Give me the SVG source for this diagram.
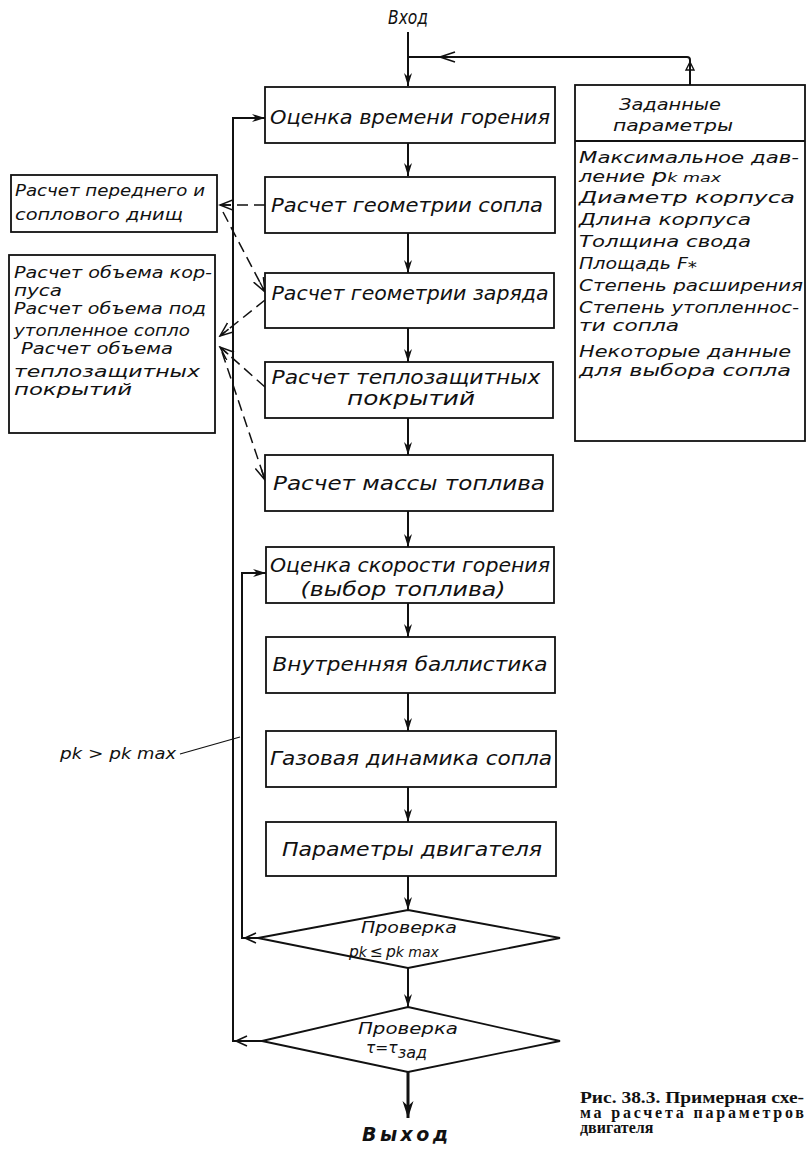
<svg xmlns="http://www.w3.org/2000/svg" width="809" height="1149" viewBox="0 0 809 1149">
  <style>
    .box { fill: #fff; stroke: #111; stroke-width: 1.8; }
    .ln { fill: none; stroke: #111; stroke-width: 2; }
    .dash { fill: none; stroke: #111; stroke-width: 1.5; stroke-dasharray: 11 6; }
    .t { font-family: "DejaVu Sans", "Liberation Sans", sans-serif; font-style: italic; font-size: 19px; fill: #111; }
    .ts { font-family: "DejaVu Sans", "Liberation Sans", sans-serif; font-style: italic; font-size: 15.5px; fill: #111; }
    .cap { font-family: "Liberation Serif", "DejaVu Serif", serif; font-weight: bold; font-size: 16px; fill: #111; }
  </style>
  <defs>
    <marker id="arr" markerUnits="userSpaceOnUse" markerWidth="14" markerHeight="10" refX="13" refY="4" orient="auto">
      <path d="M0,0 L13,4 L0,8 L4,4 Z" fill="#111"/>
    </marker>
    <marker id="arrBig" markerUnits="userSpaceOnUse" markerWidth="18" markerHeight="12" refX="17" refY="5.5" orient="auto">
      <path d="M0,0 L17,5.5 L0,11 L5,5.5 Z" fill="#111"/>
    </marker>
    <marker id="barb" markerUnits="userSpaceOnUse" markerWidth="16" markerHeight="12" refX="14" refY="5.5" orient="auto">
      <path d="M0,0 L14,5.5 L0,11 M3,5.5 L14,5.5" fill="none" stroke="#111" stroke-width="1.5"/>
    </marker>
  </defs>

  <rect width="809" height="1149" fill="#fff"/>

  <!-- connectors -->
  <g id="connectors">
    <!-- input -->
    <line class="ln" x1="408" y1="32" x2="408" y2="86" marker-end="url(#arr)"/>
    <path class="ln" d="M690,85 L690,60 Q690,57 687,57 L408,57"/>
    <path d="M455,52 L440,57 L455,62" fill="none" stroke="#111" stroke-width="1.6"/>
    <path d="M686,70 L690,62 L694,70 Z" fill="none" stroke="#111" stroke-width="1.4"/>
    <!-- main flow -->
    <line class="ln" x1="408" y1="143" x2="408" y2="176" marker-end="url(#arr)"/>
    <line class="ln" x1="408" y1="233" x2="408" y2="273" marker-end="url(#arr)"/>
    <line class="ln" x1="408" y1="328" x2="408" y2="362" marker-end="url(#arr)"/>
    <line class="ln" x1="408" y1="418" x2="408" y2="455" marker-end="url(#arr)"/>
    <line class="ln" x1="408" y1="511" x2="408" y2="547" marker-end="url(#arr)"/>
    <line class="ln" x1="408" y1="603" x2="408" y2="637" marker-end="url(#arr)"/>
    <line class="ln" x1="408" y1="693" x2="408" y2="731" marker-end="url(#arr)"/>
    <line class="ln" x1="408" y1="787" x2="408" y2="822" marker-end="url(#arr)"/>
    <line class="ln" x1="408" y1="876" x2="408" y2="910" marker-end="url(#arr)"/>
    <line class="ln" x1="408" y1="968" x2="408" y2="1007" marker-end="url(#arr)"/>
    <line x1="408" y1="1072" x2="408" y2="1118" stroke="#111" stroke-width="3" marker-end="url(#arrBig)"/>
    <!-- feedback loops -->
    <path class="ln" d="M262,1041 L233,1041 L233,118 L265,118" marker-end="url(#arr)"/>
    <path d="M247,1036 L236,1041 L247,1046" fill="none" stroke="#111" stroke-width="1.6"/>
    <path class="ln" d="M258,938 L242,938 L242,573 L266,573" marker-end="url(#arr)"/>
    <path d="M256,933 L245,938 L256,943" fill="none" stroke="#111" stroke-width="1.6"/>
    <line x1="180" y1="754" x2="240" y2="737" stroke="#111" stroke-width="1.2"/>
    <!-- auxiliary dashed links -->
    <line class="dash" x1="265" y1="205" x2="220" y2="205" marker-end="url(#barb)"/>
    <line class="dash" x1="223" y1="212" x2="265" y2="292" marker-end="url(#barb)"/>
    <line class="dash" x1="265" y1="300" x2="220" y2="336" marker-end="url(#barb)"/>
    <line class="dash" x1="265" y1="387" x2="220" y2="347" marker-end="url(#barb)"/>
    <line class="dash" x1="222" y1="352" x2="265" y2="480" marker-end="url(#barb)"/>
  </g>

  <!-- terminal labels -->
  <text class="t" x="408" y="24" text-anchor="middle" textLength="40" lengthAdjust="spacingAndGlyphs">Вход</text>
  <text class="t" x="405" y="1141" text-anchor="middle" font-weight="bold" textLength="86" lengthAdjust="spacing">Выход</text>

  <!-- main process boxes -->
  <g id="n1">
    <rect class="box" x="265" y="87" width="290" height="56"/>
    <text class="t" x="410" y="124" text-anchor="middle" textLength="280" lengthAdjust="spacingAndGlyphs">Оценка времени горения</text>
  </g>
  <g id="n2">
    <rect class="box" x="265" y="177" width="290" height="56"/>
    <text class="t" x="407" y="212" text-anchor="middle" textLength="272" lengthAdjust="spacingAndGlyphs">Расчет  геометрии сопла</text>
  </g>
  <g id="n3">
    <rect class="box" x="265" y="273" width="289" height="55"/>
    <text class="t" x="410" y="300" text-anchor="middle" textLength="277" lengthAdjust="spacingAndGlyphs">Расчет геометрии заряда</text>
  </g>
  <g id="n4">
    <rect class="box" x="265" y="362" width="288" height="56"/>
    <text class="t" x="406" y="384" text-anchor="middle" textLength="269" lengthAdjust="spacingAndGlyphs">Расчет теплозащитных</text>
    <text class="t" x="411" y="405" text-anchor="middle" textLength="128" lengthAdjust="spacingAndGlyphs">покрытий</text>
  </g>
  <g id="n5">
    <rect class="box" x="265" y="455" width="288" height="56"/>
    <text class="t" x="409" y="490" text-anchor="middle" textLength="272" lengthAdjust="spacingAndGlyphs">Расчет массы топлива</text>
  </g>
  <g id="n6">
    <rect class="box" x="266" y="547" width="288" height="56"/>
    <text class="t" x="410" y="572" text-anchor="middle" textLength="280" lengthAdjust="spacingAndGlyphs">Оценка скорости горения</text>
    <text class="t" x="403" y="596" text-anchor="middle" textLength="205" lengthAdjust="spacingAndGlyphs">(выбор топлива)</text>
  </g>
  <g id="n7">
    <rect class="box" x="266" y="637" width="289" height="56"/>
    <text class="t" x="410" y="671" text-anchor="middle" textLength="275" lengthAdjust="spacingAndGlyphs">Внутренняя баллистика</text>
  </g>
  <g id="n8">
    <rect class="box" x="266" y="731" width="290" height="56"/>
    <text class="t" x="411" y="765" text-anchor="middle" textLength="282" lengthAdjust="spacingAndGlyphs">Газовая  динамика сопла</text>
  </g>
  <g id="n9">
    <rect class="box" x="266" y="822" width="290" height="54"/>
    <text class="t" x="412" y="856" text-anchor="middle" textLength="260" lengthAdjust="spacingAndGlyphs">Параметры двигателя</text>
  </g>

  <!-- decisions -->
  <g id="d1">
    <polygon class="box" points="408,910 560,938 408,968 258,938"/>
    <text class="ts" x="409" y="933" font-size="17" text-anchor="middle" textLength="96" lengthAdjust="spacingAndGlyphs">Проверка</text>
    <text class="ts" x="349" y="957" font-size="19">p<tspan font-size="14">k</tspan><tspan dx="3">≤</tspan><tspan dx="3">p</tspan><tspan font-size="14">k max</tspan></text>
  </g>
  <g id="d2">
    <polygon class="box" points="408,1007 560,1041 408,1072 262,1041"/>
    <text class="ts" x="408" y="1034" font-size="17" text-anchor="middle" textLength="100" lengthAdjust="spacingAndGlyphs">Проверка</text>
    <text class="ts" x="366" y="1053" font-size="20">τ=τ<tspan font-size="16" dy="5">зад</tspan></text>
  </g>

  <!-- side calculation boxes -->
  <g id="s1">
    <rect class="box" x="11" y="175" width="206" height="57"/>
    <text class="ts" x="15" y="196" textLength="190" lengthAdjust="spacingAndGlyphs">Расчет переднего и</text>
    <text class="ts" x="15" y="220" textLength="168" lengthAdjust="spacingAndGlyphs">соплового днищ</text>
  </g>
  <g id="s2">
    <rect class="box" x="9" y="255" width="206" height="178"/>
    <text class="ts" x="14" y="278" textLength="198" lengthAdjust="spacingAndGlyphs">Расчет объема кор-</text>
    <text class="ts" x="14" y="296" textLength="48" lengthAdjust="spacingAndGlyphs">пуса</text>
    <text class="ts" x="14" y="314" textLength="192" lengthAdjust="spacingAndGlyphs">Расчет объема под</text>
    <text class="ts" x="14" y="336" textLength="176" lengthAdjust="spacingAndGlyphs">утопленное сопло</text>
    <text class="ts" x="21" y="354" textLength="152" lengthAdjust="spacingAndGlyphs">Расчет объема</text>
    <text class="ts" x="14" y="377" textLength="186" lengthAdjust="spacingAndGlyphs">теплозащитных</text>
    <text class="ts" x="14" y="395" textLength="118" lengthAdjust="spacingAndGlyphs">покрытий</text>
  </g>

  <!-- given parameters -->
  <g id="given">
    <rect class="box" x="575" y="85" width="230" height="356"/>
    <line x1="575" y1="141" x2="805" y2="141" stroke="#111" stroke-width="1.8"/>
    <text class="ts" x="670" y="110" font-size="19" text-anchor="middle" textLength="102" lengthAdjust="spacingAndGlyphs">Заданные</text>
    <text class="ts" x="673" y="131" font-size="19" text-anchor="middle" textLength="120" lengthAdjust="spacingAndGlyphs">параметры</text>
    <text class="ts" x="579" y="163" textLength="220" lengthAdjust="spacingAndGlyphs">Максимальное дав-</text>
    <text class="ts" x="579" y="182" textLength="142" lengthAdjust="spacingAndGlyphs">ление <tspan font-size="18">p</tspan><tspan font-size="13">k max</tspan></text>
    <text class="ts" x="579" y="203" textLength="216" lengthAdjust="spacingAndGlyphs">Диаметр корпуса</text>
    <text class="ts" x="579" y="225" textLength="172" lengthAdjust="spacingAndGlyphs">Длина корпуса</text>
    <text class="ts" x="579" y="247" textLength="172" lengthAdjust="spacingAndGlyphs">Толщина свода</text>
    <text class="ts" x="579" y="269" textLength="118" lengthAdjust="spacingAndGlyphs">Площадь F<tspan font-size="15" dy="4">*</tspan></text>
    <text class="ts" x="579" y="291" textLength="224" lengthAdjust="spacingAndGlyphs">Степень расширения</text>
    <text class="ts" x="579" y="313" textLength="220" lengthAdjust="spacingAndGlyphs">Степень утопленнос-</text>
    <text class="ts" x="579" y="331" textLength="100" lengthAdjust="spacingAndGlyphs">ти сопла</text>
    <text class="ts" x="579" y="357" textLength="212" lengthAdjust="spacingAndGlyphs">Некоторые данные</text>
    <text class="ts" x="579" y="376" textLength="212" lengthAdjust="spacingAndGlyphs">для выбора сопла</text>
  </g>

  <!-- loop condition label -->
  <text class="ts" x="60" y="759" font-size="20" textLength="116" lengthAdjust="spacingAndGlyphs">p<tspan font-size="15">k</tspan> &gt; p<tspan font-size="15">k max</tspan></text>

  <!-- caption -->
  <g id="caption">
    <text class="cap" x="580" y="1103" textLength="224" lengthAdjust="spacingAndGlyphs">Рис. 38.3. Примерная схе-</text>
    <text class="cap" x="580" y="1118" textLength="224" lengthAdjust="spacing">ма  расчета  параметров</text>
    <text class="cap" x="580" y="1133">двигателя</text>
  </g>
</svg>
